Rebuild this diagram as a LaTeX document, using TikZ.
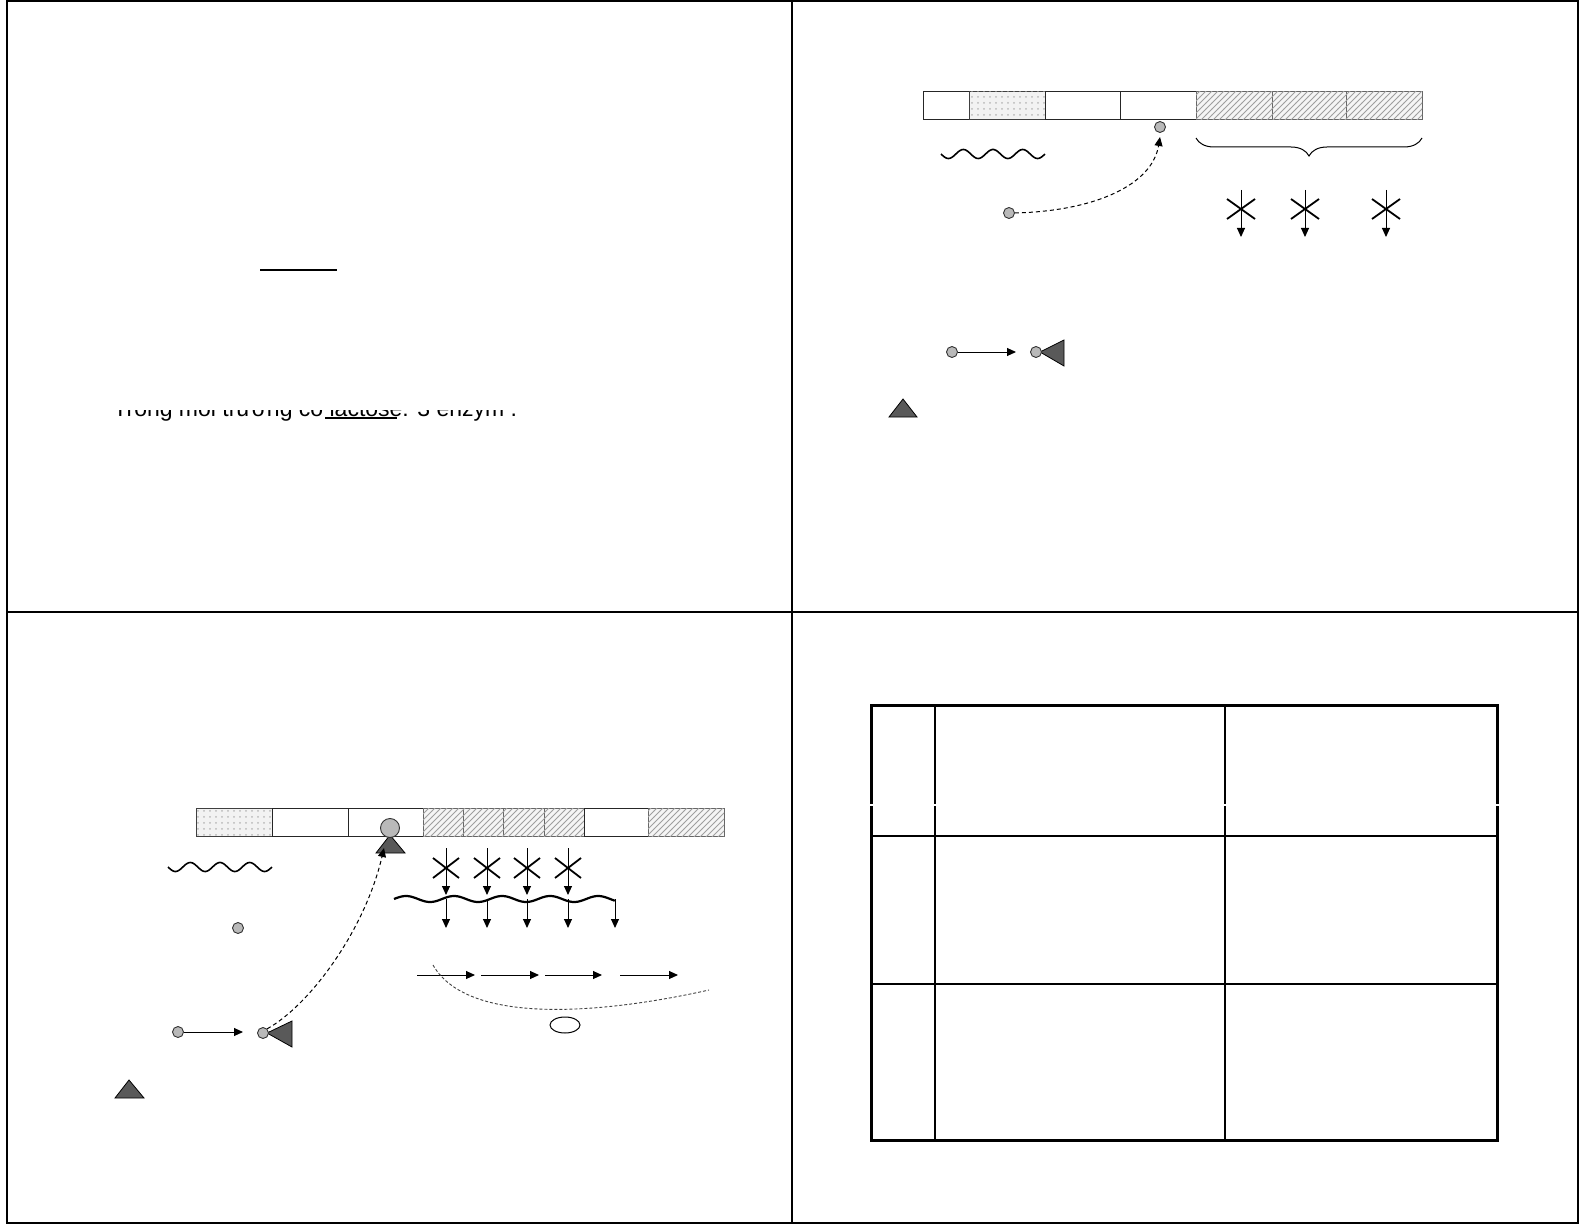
\documentclass[tikz,border=0pt]{standalone}
\usepackage{fontspec}
\setmainfont{Liberation Sans}
\usetikzlibrary{arrows.meta,patterns,decorations.pathreplacing}
\begin{document}
\begin{tikzpicture}[x=0.5pt,y=-0.5pt,
  frame/.style={line width=1pt},
  cellw/.style={draw=black!85,line width=0.5pt,fill=white},
  celld/.style={draw=black!75,line width=0.5pt,fill=gray!10,postaction={pattern=dots,pattern color=gray!55}},
  cellh/.style={draw=black!60,line width=0.5pt,fill=gray!8,postaction={pattern=north east lines,pattern color=gray!75}},
  ball/.style={circle,draw=black!80,fill=gray!55,line width=0.45pt,inner sep=0pt,minimum size=5.5pt},
  bigball/.style={ball,minimum size=9.5pt},
  tri/.style={draw=black,fill=black!65,line width=0.4pt},
  arr/.style={-{Triangle[length=4.5pt,width=4pt]},line width=0.5pt},
  dsh/.style={dash pattern=on 2pt off 1.5pt,line width=0.5pt},
  cross/.style={line width=0.9pt},
  wave/.style={line width=0.8pt},
  tline/.style={line width=0.8pt},
  touter/.style={line width=1.5pt},
  uline/.style={line width=1.2pt}
]
\useasboundingbox (0,0) rectangle (1585,1225);
% page frame and slide dividers
\draw[frame] (7,1) rectangle (1578,1223);
\draw[frame] (792,1) -- (792,1223);
\draw[frame] (7,612) -- (1578,612);

% ---------- slide 1 ----------
\draw[uline] (260,270) -- (337,270);
\begin{scope}
  \clip (100,410) rectangle (540,424);
  \node[anchor=base west,inner sep=0pt,font=\fontsize{11.5pt}{13pt}\selectfont] (s1t) at (113,416) {Trong môi trường có lactose: 3 enzym .};
\end{scope}
\draw[uline] (325,418) -- (397,418);

% ---------- slide 2 ----------
\draw[cellw] (923,92) rectangle (969,120);
\draw[celld] (969,92) rectangle (1045,120);
\draw[cellw] (1045,92) rectangle (1120,120);
\draw[cellw] (1120,92) rectangle (1196,120);
\draw[cellh] (1196,92) rectangle (1272,120);
\draw[cellh] (1272,92) rectangle (1346,120);
\draw[cellh] (1346,92) rectangle (1422,120);
\node[ball] (b2) at (1160,127) {};
\draw[wave] plot[domain=0:1,samples=90,smooth] ({941+104*\x},{154+4.5*sin(3.5*360*\x)});
\draw[line width=0.5pt,decorate,decoration={brace,mirror,amplitude=9pt,raise=0pt}] (1196,138) -- (1422,138);
\node[ball] (s2) at (1009,213) {};
\coordinate (t2) at (1160,137);
\draw[dsh,arr] (s2.east) .. controls (1095,211) and (1152,185) .. (t2);
\foreach \xx in {1241,1305,1386}{
  \draw[arr] (\xx,190) -- (\xx,237);
  \draw[cross] (\xx-14,199) -- (\xx+14,219) (\xx-14,219) -- (\xx+14,199);
}
\node[ball] (c1) at (952,352) {};
\coordinate (c1t) at (1016,352);
\draw[arr] (c1.east) -- (c1t);
\draw[tri] (1040,352) -- (1064,340) -- (1064,366) -- cycle;
\node[ball] (c2) at (1036,352) {};
\draw[tri] (903,399) -- (917,417) -- (889,417) -- cycle;

% ---------- slide 3 ----------
\draw[celld] (196,808) rectangle (272,836);
\draw[cellw] (272,808) rectangle (348,836);
\draw[cellw] (348,808) rectangle (423,836);
\draw[cellh] (423,808) rectangle (463,836);
\draw[cellh] (463,808) rectangle (503,836);
\draw[cellh] (503,808) rectangle (544,836);
\draw[cellh] (544,808) rectangle (584,836);
\draw[cellw] (584,808) rectangle (648,836);
\draw[cellh] (648,808) rectangle (724,836);
\draw[tri] (390,835) -- (405,853) -- (376,853) -- cycle;
\node[bigball] (b3) at (390,828) {};
\draw[wave] plot[domain=0:1,samples=90,smooth] ({168+104*\x},{867+4.5*sin(3.5*360*\x)});
\node[ball] (m3) at (238,928) {};
\node[ball] (d1) at (178,1032) {};
\coordinate (d1t) at (243,1032);
\draw[arr] (d1.east) -- (d1t);
\draw[tri] (267,1033) -- (292,1021) -- (292,1047) -- cycle;
\node[ball] (d2) at (263,1033) {};
\coordinate (t3) at (384,848);
\draw[dsh,arr] (d2.north east) .. controls (310,1005) and (365,930) .. (t3);
\foreach \xx in {446,487,527,568}{
  \draw[arr] (\xx,848) -- (\xx,895);
  \draw[cross] (\xx-13,858) -- (\xx+13,878) (\xx-13,878) -- (\xx+13,858);
}
\draw[line width=1.1pt] plot[domain=0:1,samples=120,smooth] ({394+221*\x},{899-3*sin(4.6*360*\x)}) -- (615,901);
\foreach \xx in {446,487,527,568,615}{
  \draw[arr] (\xx,899) -- (\xx,928);
}
\coordinate (h0) at (417,975);
\coordinate (h1) at (475,975);
\coordinate (h2) at (481,975);
\coordinate (h3) at (539,975);
\coordinate (h4) at (545,975);
\coordinate (h5) at (602,975);
\coordinate (h6) at (620,975);
\coordinate (h7) at (678,975);
\draw[arr] (h0) -- (h1);
\draw[arr] (h2) -- (h3);
\draw[arr] (h4) -- (h5);
\draw[arr] (h6) -- (h7);
\coordinate (k0) at (433,965);
\coordinate (k1) at (709,990);
\draw[draw=black!75,line width=0.45pt,dash pattern=on 1.5pt off 1pt] (k0) .. controls (470,1030) and (620,1010) .. (k1);
\draw[line width=0.5pt] (565,1025) ellipse [x radius=15,y radius=8];
\draw[tri] (129,1080) -- (144,1098) -- (115,1098) -- cycle;

% ---------- slide 4: table ----------
\draw[tline] (935,705) -- (935,1140);
\draw[tline] (1225,705) -- (1225,1140);
\draw[tline] (871,836) -- (1497,836);
\draw[tline] (871,984) -- (1497,984);
\draw[touter] (871,705) rectangle (1497,1140);
\foreach \xx in {871,935,1225,1497}{
  \fill[white] (\xx-3,804) rectangle (\xx+3,806);
}
\end{tikzpicture}
\end{document}
